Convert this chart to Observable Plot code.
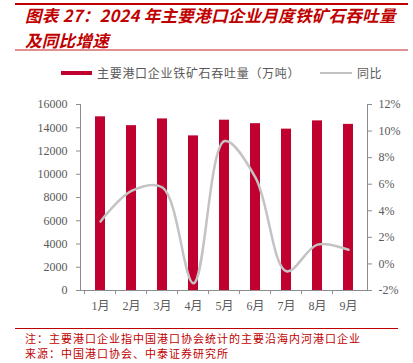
<!DOCTYPE html>
<html><head><meta charset="utf-8">
<script src="https://cdn.jsdelivr.net/npm/d3@7"></script>
<script src="https://cdn.jsdelivr.net/npm/@observablehq/plot@0.6"></script>
<style>
body{margin:0;width:413px;height:363px;background:#fff;position:relative;overflow:hidden;font-family:"Noto Sans CJK SC",sans-serif;}
.rule{position:absolute;left:15px;right:5px;}
#t1,#t2{position:absolute;left:25px;color:#c00000;font-weight:bold;font-style:italic;font-size:16.5px;line-height:20px;white-space:nowrap;letter-spacing:0.3px;}
#legend{position:absolute;top:64px;left:0;width:413px;height:18px;font-size:12px;color:#595959;}
#chart{position:absolute;left:0;top:95px;}
.foot{position:absolute;left:25px;color:#c00000;font-size:11px;line-height:14px;letter-spacing:1px;white-space:nowrap;}
</style></head>
<body>
<div class="rule" style="top:3px;height:2px;background:#c00000"></div>
<div id="t1" style="top:5px">图表 27：2024 年主要港口企业月度铁矿石吞吐量</div>
<div id="t2" style="top:30px">及同比增速</div>
<div class="rule" style="top:49px;height:2px;background:#e09090"></div>
<div id="legend"></div>
<div id="chart"></div>
<div class="rule" style="top:328px;height:1px;background:#c00000;right:15px"></div>
<div class="foot" style="top:331px">注：主要港口企业指中国港口协会统计的主要沿海内河港口企业</div>
<div class="foot" style="top:346px">来源：中国港口协会、中泰证券研究所</div>
<script>
const months = ["1月","2月","3月","4月","5月","6月","7月","8月","9月"];
const throughput = [14940,14180,14760,13300,14650,14350,13880,14590,14290];
const yoy = [3.2,5.5,5.75,-1.45,9.25,6.5,-0.55,1.45,1.07];
const leftTicks = [0,2000,4000,6000,8000,10000,12000,14000,16000];
const rightTicks = [-2,0,2,4,6,8,10,12];
const seriesNames = ["主要港口企业铁矿石吞吐量（万吨）","同比"];
const barColor = "#c0002f";
const lineColor = "#c3c3c3";

const leftMax = 16000, rMin = -2, rMax = 12;
const toLeft = p => (p - rMin) / (rMax - rMin) * leftMax;
const toPct = v => v / leftMax * (rMax - rMin) + rMin;

const bars = months.map((m,i)=>({m, v: throughput[i]}));
const line = months.map((m,i)=>({m, v: toLeft(yoy[i])}));

const W = 413, H = 225, mL = 80, mR = 46, mT = 9, mB = 30;
const step = (W - mL - mR) / months.length;

// legend
const lg = document.getElementById("legend");
lg.innerHTML = `<div style="position:absolute;left:61px;top:7px;width:31px;height:4px;background:${barColor}"></div>
<div style="position:absolute;left:97px;top:0;letter-spacing:0.7px">${seriesNames[0]}</div>
<div style="position:absolute;left:320px;top:8px;width:32px;height:2px;background:${lineColor}"></div>
<div style="position:absolute;left:357px;top:0;letter-spacing:0.5px">${seriesNames[1]}</div>`;

const chart = Plot.plot({
  width: W, height: H,
  marginLeft: mL, marginRight: mR, marginTop: mT, marginBottom: mB,
  style: {fontFamily: "'Liberation Serif','Noto Sans CJK SC',serif", fontSize: "12px", color: "#595959", background: "#fff"},
  x: {domain: months, paddingInner: 0.69, paddingOuter: 0.345, axis: null},
  y: {domain: [0, leftMax], axis: null},
  marks: [
    Plot.barY(bars, {x: "m", y: "v", fill: barColor}),
    Plot.line(line, {x: "m", y: "v", stroke: lineColor, strokeWidth: 2.5, curve: "catmull-rom"}),
    Plot.ruleY([0], {stroke: "#8c8c8c"}),
    Plot.frame({anchor: "left", stroke: "#8c8c8c"}),
    Plot.frame({anchor: "right", stroke: "#8c8c8c"}),
    Plot.axisY({anchor: "left", label: null, ticks: leftTicks, tickSize: 4, tickPadding: 9, stroke: "#8c8c8c", tickFormat: d => String(d)}),
    Plot.axisY({anchor: "right", label: null, ticks: rightTicks.map(toLeft), tickSize: 4, tickPadding: 7, stroke: "#8c8c8c", tickFormat: d => Math.round(toPct(d)) + "%"}),
    Plot.axisX({anchor: "bottom", label: null, ticks: months, tickSize: 4, stroke: "#8c8c8c", dx: -step/2, tickFormat: () => ""}),
    Plot.axisX({anchor: "bottom", label: null, ticks: months, tickPadding: 11, tickSize: 0, fill: "#595959"})
  ]
});
document.getElementById("chart").appendChild(chart);
</script>
</body></html>
